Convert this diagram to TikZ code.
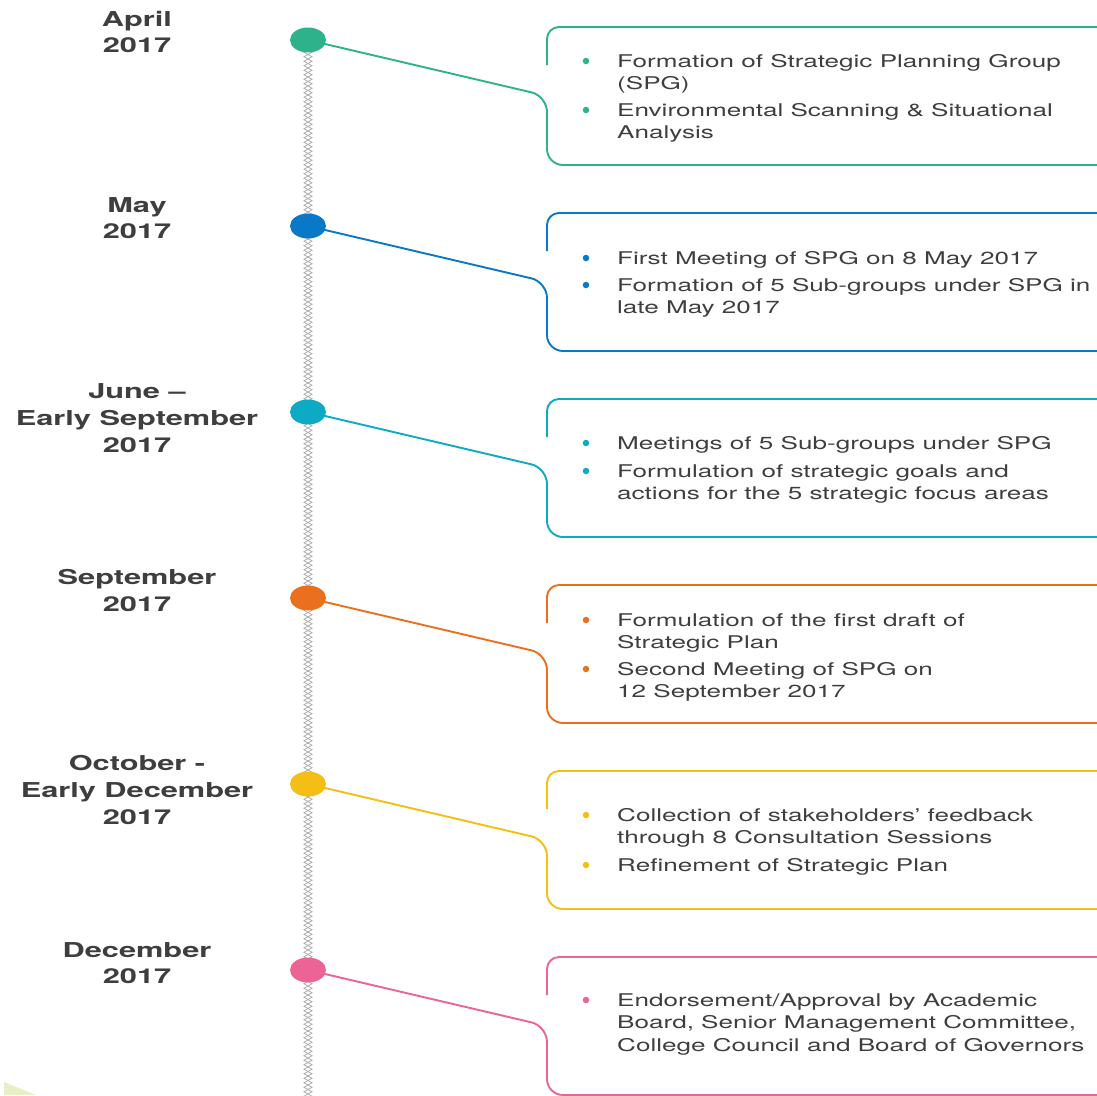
\documentclass[tikz,border=0pt]{standalone}
\usepackage{fontspec}
\usetikzlibrary{decorations.pathmorphing,shapes.geometric}
\newfontfamily\bodyfont[FakeStretch=1.49]{TeX Gyre Heros}
\newfontfamily\datefont[FakeStretch=1.5]{TeX Gyre Heros}
\definecolor{cgreen}{HTML}{2EB28C}
\definecolor{cblue}{HTML}{0A78C8}
\definecolor{ccyan}{HTML}{0CAAC3}
\definecolor{corange}{HTML}{EA701E}
\definecolor{cyellow}{HTML}{F5BE14}
\definecolor{cpink}{HTML}{EC6496}
\definecolor{txt}{HTML}{3E3E3E}
\definecolor{leaf}{HTML}{E6EFC6}
\tikzset{
  boxline/.style={line width=1.9pt},
  dotnode/.style={ellipse, inner sep=0pt, minimum width=36pt, minimum height=25pt},
  bul/.style={circle, inner sep=0pt, minimum size=6.5pt},
  datetxt/.style={anchor=base, inner sep=0pt, text=txt, font=\datefont\bfseries\fontsize{20.5}{26}\selectfont},
  bodytxt/.style={anchor=base west, inner sep=0pt, text=txt, font=\bodyfont\fontsize{17.5}{22}\selectfont},
  chain/.style={draw=gray!65, line width=0.8pt, decorate, decoration={zigzag, amplitude=4pt, segment length=9pt}},
}
\begin{document}
\begin{tikzpicture}[x=1pt,y=-1pt]
\useasboundingbox (0,0) rectangle (1097,1095);
\clip (0,0) rectangle (1097,1095);
\fill[leaf] (4,1082) -- (36,1095) -- (4,1095) -- cycle;

% timeline chain
\coordinate (chaintop) at (308,50);
\coordinate (chainbot) at (308,1100);
\draw[chain] (chaintop) -- (chainbot);
\draw[chain, decoration={mirror}] (chaintop) -- (chainbot);

% boxes and connectors
\foreach \k/\c in {0/cgreen,1/cblue,2/ccyan,3/corange,4/cyellow,5/cpink}{
  \pgfmathsetmacro{\T}{27+186*\k}
  \pgfmathsetmacro{\D}{40+186*\k}
  \coordinate (dc\k) at (308,\D);
  \coordinate (bend\k) at (547,\D+56);
  \coordinate (bl\k) at (547,\T+138);
  \coordinate (br\k) at (1110,\T+138);
  \coordinate (ts\k) at (547,\T+38);
  \coordinate (tl\k) at (547,\T);
  \coordinate (tr\k) at (1110,\T);
  \draw[boxline, \c, rounded corners=12pt] (ts\k) -- (tl\k) -- (tr\k);
  \draw[boxline, \c, rounded corners=16pt] (dc\k) -- (bend\k) -- (bl\k) -- (br\k);
  \node[dotnode, fill=\c] (d\k) at (dc\k) {};
}

% dates
\node[datetxt] (a1) at (137,26) {April};
\node[datetxt] (a2) at (137,52) {2017};
\node[datetxt] (b1) at (137,212) {May};
\node[datetxt] (b2) at (137,238) {2017};
\node[datetxt] (c1) at (137,398) {June –};
\node[datetxt] (c2) at (137,425) {Early September};
\node[datetxt] (c3) at (137,452) {2017};
\node[datetxt] (e1) at (137,584) {September};
\node[datetxt] (e2) at (137,611) {2017};
\node[datetxt] (f1) at (137,770) {October -};
\node[datetxt] (f2) at (137,797) {Early December};
\node[datetxt] (f3) at (137,824) {2017};
\node[datetxt] (g1) at (137,957) {December};
\node[datetxt] (g2) at (137,983) {2017};

% box 1
\node[bul, fill=cgreen] (p1) at (586,61) {};
\node[bodytxt] (t11) at (617,67) {Formation of Strategic Planning Group};
\node[bodytxt] (t12) at (617,89) {(SPG)};
\node[bul, fill=cgreen] (p2) at (586,110) {};
\node[bodytxt] (t13) at (617,116) {Environmental Scanning \& Situational};
\node[bodytxt] (t14) at (617,138) {Analysis};
% box 2
\node[bul, fill=cblue] (q1) at (586,258) {};
\node[bodytxt] (t21) at (617,264) {First Meeting of SPG on 8 May 2017};
\node[bul, fill=cblue] (q2) at (586,285) {};
\node[bodytxt] (t22) at (617,291) {Formation of 5 Sub-groups under SPG in};
\node[bodytxt] (t23) at (617,313) {late May 2017};
% box 3
\node[bul, fill=ccyan] (r1) at (586,443) {};
\node[bodytxt] (t31) at (617,449) {Meetings of 5 Sub-groups under SPG};
\node[bul, fill=ccyan] (r2) at (586,471) {};
\node[bodytxt] (t32) at (617,477) {Formulation of strategic goals and};
\node[bodytxt] (t33) at (617,499) {actions for the 5 strategic focus areas};
% box 4
\node[bul, fill=corange] (s1) at (586,620) {};
\node[bodytxt] (t41) at (617,626) {Formulation of the first draft of};
\node[bodytxt] (t42) at (617,648) {Strategic Plan};
\node[bul, fill=corange] (s2) at (586,669) {};
\node[bodytxt] (t43) at (617,675) {Second Meeting of SPG on};
\node[bodytxt] (t44) at (617,697) {12 September 2017};
% box 5
\node[bul, fill=cyellow] (u1) at (586,815) {};
\node[bodytxt] (t51) at (617,821) {Collection of stakeholders’ feedback};
\node[bodytxt] (t52) at (617,843) {through 8 Consultation Sessions};
\node[bul, fill=cyellow] (u2) at (586,865) {};
\node[bodytxt] (t53) at (617,871) {Refinement of Strategic Plan};
% box 6
\node[bul, fill=cpink] (v1) at (586,1000) {};
\node[bodytxt] (t61) at (617,1006) {Endorsement/Approval by Academic};
\node[bodytxt] (t62) at (617,1028) {Board, Senior Management Committee,};
\node[bodytxt] (t63) at (617,1051) {College Council and Board of Governors};
\end{tikzpicture}
\end{document}
